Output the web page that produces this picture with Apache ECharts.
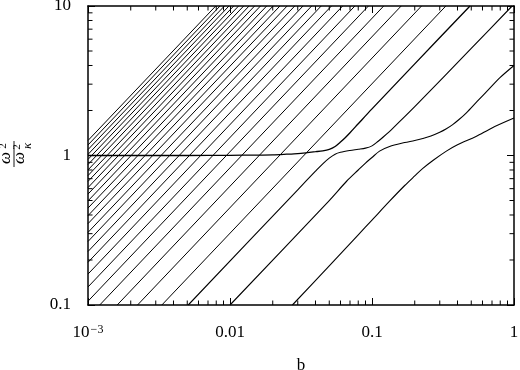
<!DOCTYPE html>
<html><head><meta charset="utf-8">
<script src="https://cdn.jsdelivr.net/npm/echarts@6/dist/echarts.min.js"></script>
<style>html,body{margin:0;padding:0;background:#fff}#c{width:520px;height:370px}</style>
</head><body><div id="c"></div>
<script>
// ---- tick positions and labels ----
const xTicks = [0.001, 0.01, 0.1, 1];
const xTickLabels = ['{a|10}{s|−3}', '0.01', '0.1', '1'];
const yTicks = [0.1, 1, 10];
const yTickLabels = ['0.1', '1', '10'];
const xMinorTicks = [0.002,0.003,0.004,0.005,0.006,0.007,0.008,0.009,
                     0.02,0.03,0.04,0.05,0.06,0.07,0.08,0.09,
                     0.2,0.3,0.4,0.5,0.6,0.7,0.8,0.9];
const yMinorTicks = [0.2,0.3,0.4,0.5,0.6,0.7,0.8,0.9, 2,3,4,5,6,7,8,9];

// ---- data ----
// slopes k of the straight branches  (omega^2/omega_K^2 = k * b)
const diagSlopes = [30.2, 44.8, 62.3, 82.7, 106, 132, 161, 193, 228, 266, 306, 350,
                    396, 445, 497, 552, 610, 671, 734, 801, 870, 942, 1017, 1095, 1176, 1260];
// curved branches near the avoided crossings  [b, omega^2/omega_K^2]
const branchFlat = [[0.001,1.0],[0.005,1.0],[0.01,1.003],[0.015,1.006],[0.02,1.01],[0.025,1.02],
  [0.03,1.03],[0.035,1.045],[0.04,1.06],[0.045,1.075],[0.05,1.1],[0.055,1.15],[0.06,1.23],
  [0.065,1.32],[0.07,1.42],[0.08,1.63],[0.1,2.05],[0.2,4.1],[0.49,10]];
const branchThird = [[0.00508,0.1],[0.03,0.59],[0.04,0.785],[0.045,0.88],[0.05,0.96],[0.055,1.02],
  [0.06,1.05],[0.07,1.08],[0.08,1.1],[0.09,1.12],[0.1,1.16],[0.11,1.24],[0.12,1.33],[0.14,1.52],
  [0.2,2.12],[0.5,5.2],[0.97,10]];
const branchSecond = [[0.01,0.1],[0.05,0.5],[0.066,0.67],[0.08,0.8],[0.09,0.89],[0.1,0.97],
  [0.113,1.07],[0.133,1.15],[0.17,1.22],[0.2,1.26],[0.228,1.3],[0.26,1.35],[0.3,1.43],[0.334,1.51],
  [0.37,1.61],[0.41,1.74],[0.462,1.93],[0.55,2.3],[0.671,2.8],[0.8,3.33],[1,4.0]];
const branchFirst = [[0.0275,0.1],[0.05,0.183],[0.08,0.295],[0.1,0.37],[0.133,0.495],[0.17,0.63],
  [0.2,0.73],[0.228,0.82],[0.27,0.93],[0.334,1.07],[0.4,1.18],[0.54,1.34],[0.7,1.53],[1,1.78]];

const X_MIN = 0.001, X_MAX = 1, Y_MIN = 0.1, Y_MAX = 10;

function diagPoints(k) {
  const start = (k * X_MIN >= Y_MIN) ? [X_MIN, k * X_MIN] : [Y_MIN / k, Y_MIN];
  const end = (k * X_MAX <= Y_MAX) ? [X_MAX, k * X_MAX] : [Y_MAX / k, Y_MAX];
  return [start, end];
}
function labelFor(v, ticks, labels) {
  for (let i = 0; i < ticks.length; i++) {
    if (Math.abs(Math.log10(v) - Math.log10(ticks[i])) < 1e-6) return labels[i];
  }
  return '';
}

const FONT = 'Liberation Serif';
const chart = echarts.init(document.getElementById('c'), null, {renderer: 'canvas'});

const series = [];
diagSlopes.forEach(k => {
  series.push({type: 'line', data: diagPoints(k), showSymbol: false, silent: true,
    lineStyle: {color: '#000', width: 1}, animation: false});
});
[branchFlat, branchThird, branchSecond, branchFirst].forEach((d, i) => {
  series.push({type: 'line', data: d, showSymbol: false, silent: true, smooth: 0.3,
    lineStyle: {color: '#000', width: i === 0 ? 1.3 : 1.1}, animation: false});
});
// minor ticks on all four sides
series.push({
  type: 'custom', silent: true, animation: false, z: 10, clip: false,
  data: xMinorTicks.map(v => [v, 1]),
  renderItem: function (params, api) {
    const cs = params.coordSys;
    const x = api.coord([api.value(0), 1])[0];
    const len = 4.5, st = {stroke: '#000', lineWidth: 1};
    return {type: 'group', children: [
      {type: 'line', shape: {x1: x, y1: cs.y + cs.height, x2: x, y2: cs.y + cs.height - len}, style: st},
      {type: 'line', shape: {x1: x, y1: cs.y, x2: x, y2: cs.y + len}, style: st}
    ]};
  }
});
series.push({
  type: 'custom', silent: true, animation: false, z: 10, clip: false,
  data: yMinorTicks.map(v => [0.03, v]),
  renderItem: function (params, api) {
    const cs = params.coordSys;
    const y = api.coord([0.03, api.value(1)])[1];
    const len = 4.5, st = {stroke: '#000', lineWidth: 1};
    return {type: 'group', children: [
      {type: 'line', shape: {x1: cs.x, y1: y, x2: cs.x + len, y2: y}, style: st},
      {type: 'line', shape: {x1: cs.x + cs.width, y1: y, x2: cs.x + cs.width - len, y2: y}, style: st}
    ]};
  }
});

const axisCommon = {
  type: 'log', logBase: 10,
  axisLine: {show: true, onZero: false, lineStyle: {color: '#000', width: 1.5}},
  axisTick: {show: true, inside: true, length: 7, lineStyle: {color: '#000', width: 1}},
  splitLine: {show: false}, minorTick: {show: false}
};

chart.setOption({
  backgroundColor: '#fff',
  animation: false,
  grid: {left: 88, right: 6, top: 6, bottom: 65, containLabel: false, outerBoundsMode: 'none'},
  xAxis: [
    Object.assign({}, axisCommon, {min: X_MIN, max: X_MAX, position: 'bottom',
      name: 'b', nameLocation: 'middle', nameGap: 52,
      nameTextStyle: {fontFamily: FONT, fontSize: 17, color: '#000'},
      axisLabel: {margin: 19, color: '#000', fontFamily: FONT, fontSize: 17,
        formatter: v => labelFor(v, xTicks, xTickLabels),
        rich: {a: {fontFamily: FONT, fontSize: 17, color: '#000'},
               s: {fontFamily: FONT, fontSize: 12, color: '#000', verticalAlign: 'top', padding: [0,0,6,1]}}}}),
    Object.assign({}, axisCommon, {min: X_MIN, max: X_MAX, position: 'top', axisLabel: {show: false}})
  ],
  yAxis: [
    Object.assign({}, axisCommon, {min: Y_MIN, max: Y_MAX, position: 'left',
      axisLabel: {margin: 17, color: '#000', fontFamily: FONT, fontSize: 17,
        formatter: v => labelFor(v, yTicks, yTickLabels)}}),
    Object.assign({}, axisCommon, {min: Y_MIN, max: Y_MAX, position: 'right', axisLabel: {show: false}})
  ],
  graphic: [{
    type: 'group', x: 14, y: 154, rotation: Math.PI / 2,
    children: [
      {type: 'text', x: -4, y: -8, style: {text: 'ω', font: 'italic 17px "Liberation Serif"', fill: '#000', textAlign: 'center', textVerticalAlign: 'middle'}},
      {type: 'text', x: 8, y: -11, style: {text: '2', font: '11px "Liberation Serif"', fill: '#000', textAlign: 'center', textVerticalAlign: 'middle'}},
      {type: 'line', shape: {x1: -13, y1: 0, x2: 13, y2: 0}, style: {stroke: '#000', lineWidth: 0.9}},
      {type: 'text', x: -4, y: 6, style: {text: 'ω', font: 'italic 17px "Liberation Serif"', fill: '#000', textAlign: 'center', textVerticalAlign: 'middle'}},
      {type: 'text', x: 7, y: 3, style: {text: '2', font: '11px "Liberation Serif"', fill: '#000', textAlign: 'center', textVerticalAlign: 'middle'}},
      {type: 'text', x: 8, y: 14, style: {text: 'κ', font: 'italic 13px "Liberation Serif"', fill: '#000', textAlign: 'center', textVerticalAlign: 'middle'}}
    ]
  }],
  series: series
});
</script></body></html>
